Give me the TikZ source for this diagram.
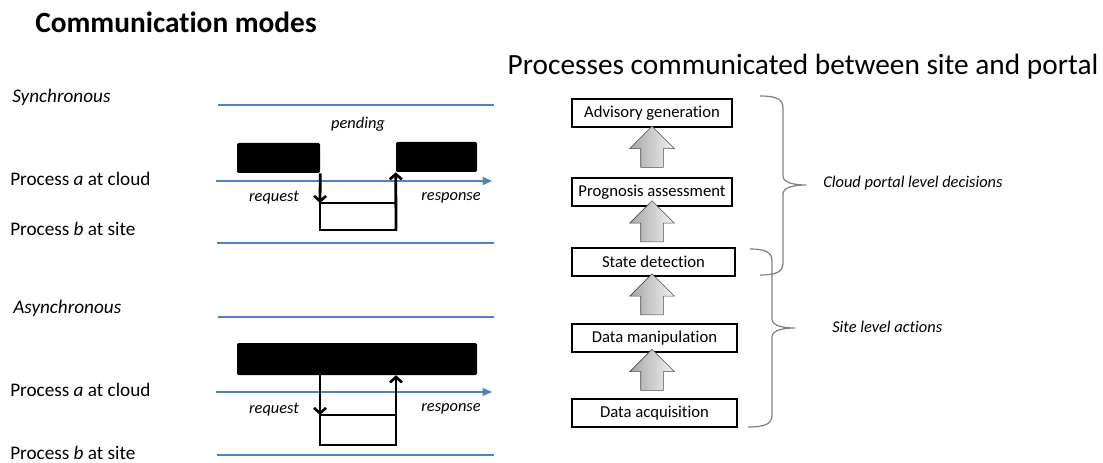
\documentclass[tikz,border=0pt]{standalone}
\usepackage{fontspec}
\setmainfont{Carlito}[Ligatures=NoCommon]
\usetikzlibrary{positioning,arrows.meta,calc,shapes.arrows}

\definecolor{bleuligne}{RGB}{79,129,189}
\definecolor{grisacc}{RGB}{127,127,127}

\begin{document}
\begin{tikzpicture}[
  x=0.75pt, y=-0.75pt,
  titre/.style={font=\fontsize{22}{26}\selectfont},
  lab/.style={font=\fontsize{14.4}{17}\selectfont, anchor=west, inner sep=0pt},
  labit/.style={font=\fontsize{12.3}{14}\selectfont\itshape, inner sep=0pt},
  mode/.style={font=\fontsize{14.4}{17}\selectfont\itshape, anchor=west, inner sep=0pt},
  ligne/.style={draw=bleuligne, line width=0.9pt},
  temps/.style={ligne, -{Triangle[length=7pt,width=6pt]}},
  bloc/.style={fill=black, rounded corners=1pt, inner sep=0pt},
  cadre/.style={draw=black, line width=2.1pt},
  fl/.style={line width=2.1pt, -{Straight Barb[length=4pt,width=9pt,line width=2pt]}},
  etape/.style={draw, line width=1.2pt, minimum height=21pt, inner sep=0pt,
    font=\fontsize{12.5}{14}\selectfont},
  fleche/.style={single arrow, draw=black!70, left color=black!35, right color=black!5,
    minimum height=30.75pt, inner xsep=0pt, inner ysep=8.25pt,
    single arrow head extend=8.25pt, rotate=90},
  accolade/.style={draw=grisacc, line width=0.9pt}
]
  \useasboundingbox (0,0) rectangle (1103,463);

  % --- Titres ---
  \node[font=\fontsize{22}{26}\selectfont\bfseries] (tmodes) at (176,22) {Communication modes};
  \node[titre] (tproc) at (803,67) {Processes communicated between site and portal};

  % --- Mode synchrone ---
  \node[mode] (sync) at (12,97) {Synchronous};
  \draw[ligne] (218,105) -- (494,105);
  \draw[temps] (216,181) -- (492,181);
  \draw[ligne] (217,243) -- (494,243);
  \node[lab] (sa) at (10,179) {Process \textit{a} at cloud};
  \node[lab] (sb) at (10,229) {Process \textit{b} at site};

  \node[bloc, minimum width=62.25pt, minimum height=22.5pt] (sblocg) at (278.5,158) {};
  \node[bloc, minimum width=60.75pt, minimum height=22.5pt] (sblocd) at (436.5,157) {};
  \coordinate (sp1) at (320,203);
  \coordinate (sp2) at (396,230);
  \draw[cadre] (sp1) rectangle (sp2);
  \node[labit] (spend) at (358,124) {pending};

  \draw[fl] (sblocg.south east) -- (sp1);
  \draw[fl] (sp2) -- (sblocd.south west);
  \node[labit] (sreq) at (274,198) {request};
  \node[labit] (srep) at (451,198) {response};

  % --- Mode asynchrone ---
  \node[mode] (async) at (13,308) {Asynchronous};
  \draw[ligne] (218,317) -- (494,317);
  \draw[temps] (216,392) -- (492,392);
  \draw[ligne] (217,455) -- (494,455);
  \node[lab] (aa) at (10,390) {Process \textit{a} at cloud};
  \node[lab] (ab) at (10,453) {Process \textit{b} at site};

  \node[bloc, minimum width=180pt, minimum height=24pt] (abloc) at (357,359) {};
  \coordinate (ap1) at (320,415);
  \coordinate (ap2) at (396,445);
  \draw[cadre] (ap1) rectangle (ap2);

  \draw[fl] (ap1 |- abloc.south) -- (ap1);
  \draw[fl] (ap2) -- (ap2 |- abloc.south);
  \node[labit] (areq) at (274,410) {request};
  \node[labit] (arep) at (451,409) {response};

  % --- Pile des processus ---
  \node[etape, minimum width=120pt]    (adv)   at (652,113)   {Advisory generation};
  \node[etape, minimum width=120pt]    (prog)  at (652,192)   {Prognosis assessment};
  \node[etape, minimum width=122.25pt] (state) at (653.5,262) {State detection};
  \node[etape, minimum width=123.75pt] (manip) at (654.5,338) {Data manipulation};
  \node[etape, minimum width=123.75pt] (acq)   at (654.5,413) {Data acquisition};

  \foreach \bas/\haut in {acq/manip, manip/state, state/prog, prog/adv}
    \node[fleche] at ($(\bas.north -| adv)!0.5!(\haut.south -| adv)$) {};

  % --- Accolades ---
  \draw[accolade] (760,96) .. controls (776,96) and (783,99) .. (783,108)
    -- (783,176) .. controls (783,183) and (795,185) .. (806,185)
    .. controls (795,185) and (783,187) .. (783,194)
    -- (783,263) .. controls (783,272) and (776,275) .. (760,275);
  \draw[accolade] (750,249) .. controls (765,249) and (772,252) .. (772,261)
    -- (772,319) .. controls (772,326) and (784,328) .. (795,328)
    .. controls (784,328) and (772,330) .. (772,337)
    -- (772,415) .. controls (772,424) and (765,427) .. (748,427);

  \node[labit, anchor=west] (cloud) at (823,183) {Cloud portal level decisions};
  \node[labit, anchor=west] (site)  at (832,327) {Site level actions};

\end{tikzpicture}
\end{document}
